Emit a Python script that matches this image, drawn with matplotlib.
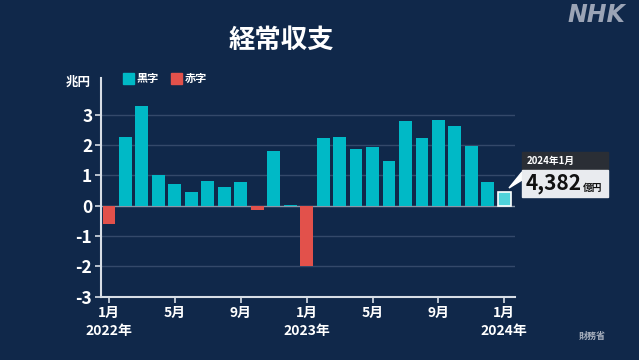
import matplotlib.pyplot as plt
import matplotlib.patches as mpatches
import numpy as np

plt.rcParams['font.family'] = ['Noto Sans CJK JP', 'DejaVu Sans']

# monthly current account balance, trillion yen (Jan 2022 - Jan 2024)
values = [-0.60, 2.26, 3.27, 1.00, 0.71, 0.44, 0.82, 0.61, 0.78, -0.13, 1.80, 0.03,
          -2.00, 2.22, 2.26, 1.88, 1.92, 1.48, 2.78, 2.24, 2.81, 2.61, 1.96, 0.78,
          0.4382]
tick_pos = [0, 4, 8, 12, 16, 20, 24]
tick_labels = ['1月\n2022年', '5月', '9月', '1月\n2023年', '5月', '9月', '1月\n2024年']
yticks = [-3, -2, -1, 0, 1, 2, 3]

bg = '#10284a'
cyan = '#00b9c6'
red = '#e2514b'

fig = plt.figure(figsize=(6.39, 3.6), dpi=100)
fig.patch.set_facecolor(bg)
ax = fig.add_axes([0.1576, 0.176, 0.6484, 0.607])
ax.set_facecolor(bg)

x = np.arange(len(values))
cols = [cyan if v >= 0 else red for v in values]
ax.bar(x[:-1], values[:-1], width=0.78, color=cols[:-1], zorder=3)
ax.bar(x[-1], values[-1], width=0.78, color='#4fd3db', edgecolor='white',
       linewidth=1.2, zorder=3)

ax.set_xlim(-0.5, 24.65)
ax.set_ylim(-3, 4.2)
for y in [-2, -1, 1, 2, 3]:
    ax.axhline(y, color='#34496a', lw=1, zorder=1)
ax.axhline(0, color='#8a97a8', lw=1, zorder=2)

for s in ['top', 'right']:
    ax.spines[s].set_visible(False)
for s in ['left', 'bottom']:
    ax.spines[s].set_color('#d8dee6')
    ax.spines[s].set_linewidth(1.5)

ax.set_yticks(yticks)
ax.set_yticklabels([str(v) for v in yticks])
ax.set_xticks(tick_pos)
ax.set_xticklabels(tick_labels, linespacing=1.3)
ax.tick_params(axis='y', colors='#d8dee6', labelcolor='white', labelsize=12.5,
               length=4, width=1.2, pad=2)
ax.tick_params(axis='x', colors='#d8dee6', labelcolor='white', labelsize=10,
               length=4, width=1.2, pad=3)
for lab in ax.get_yticklabels() + ax.get_xticklabels():
    lab.set_fontweight('bold')

# title, logo, units, legend
fig.text(281 / 639, 1 - 40 / 360, '経常収支', color='white', fontsize=19,
         fontweight='bold', ha='center', va='center')
fig.text(596 / 639, 1 - 15 / 360, 'NHK', color='#9ba4b6', fontsize=17,
         fontweight='bold', style='italic', ha='center', va='center',
         family='DejaVu Sans')
fig.text(78 / 639, 1 - 82 / 360, '兆円', color='white', fontsize=9,
         fontweight='bold', ha='center', va='center')
for x0, c, t in [(123, cyan, '黒字'), (171, red, '赤字')]:
    fig.patches.append(mpatches.Rectangle((x0 / 639, 1 - 84 / 360), 11 / 639, 11 / 360,
                                          transform=fig.transFigure, color=c))
    fig.text((x0 + 14) / 639, 1 - 78.5 / 360, t, color='white', fontsize=8,
             fontweight='bold', ha='left', va='center')
fig.text(592 / 639, 1 - 336 / 360, '財務省', color='#a9b1bf', fontsize=6.5,
         fontweight='bold', ha='center', va='center')

# callout
bx0, bx1 = 522 / 639, 608 / 639
hy0, hy1, by1 = 1 - 152 / 360, 1 - 170 / 360, 1 - 197 / 360
fig.patches.append(mpatches.Polygon([(bx0, 1 - 172 / 360), (bx0, 1 - 180 / 360),
                                     (509 / 639, 1 - 188 / 360)], closed=True,
                                    transform=fig.transFigure, color='white'))
fig.patches.append(mpatches.Rectangle((bx0, hy1), bx1 - bx0, hy0 - hy1,
                                      transform=fig.transFigure, color='#2a2e35'))
fig.patches.append(mpatches.Rectangle((bx0, by1), bx1 - bx0, hy1 - by1,
                                      transform=fig.transFigure, color='#e9ebef'))
fig.text(527 / 639, 1 - 161 / 360, '2024年1月', color='white', fontsize=7,
         fontweight='bold', ha='left', va='center')
fig.text(526 / 639, 1 - 184 / 360, f'{values[-1] * 10000:,.0f}', color='#111111',
         fontsize=15, fontweight='bold', ha='left', va='center')
fig.text(583 / 639, 1 - 188 / 360, '億円', color='#111111', fontsize=7,
         fontweight='bold', ha='left', va='center')

fig.savefig('out.png', dpi=100, facecolor=bg)
